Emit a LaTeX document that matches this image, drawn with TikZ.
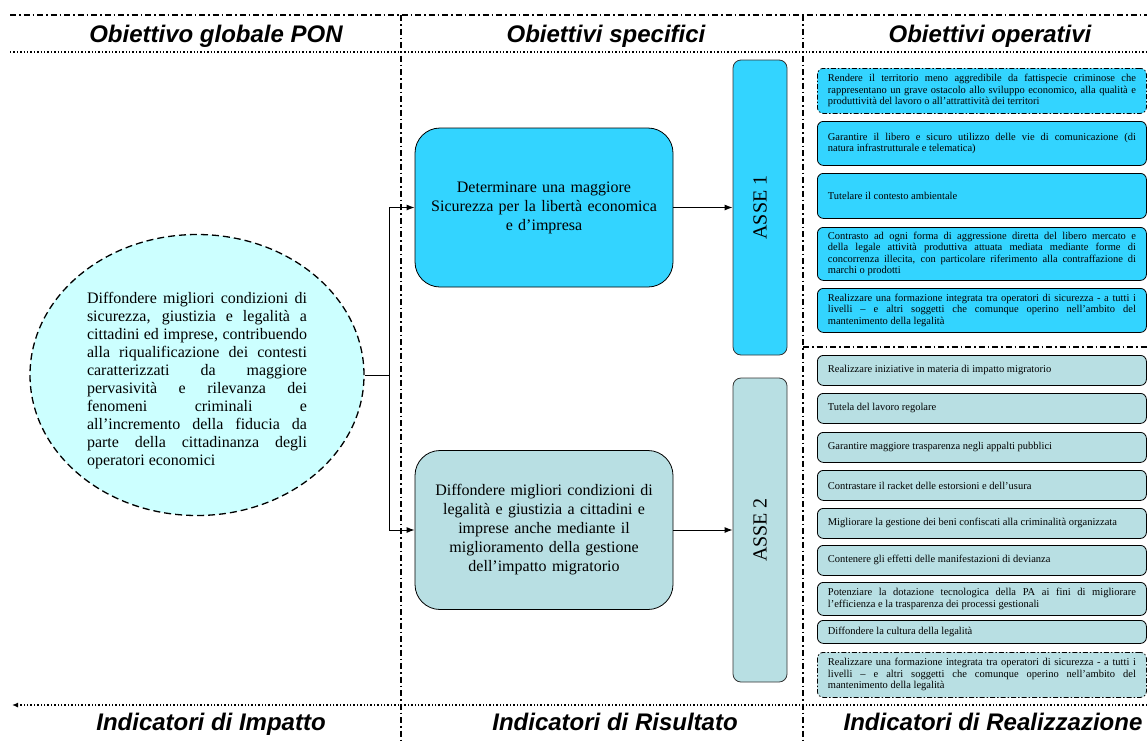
\documentclass[tikz,border=0pt]{standalone}
\usepackage{fontspec}
\setmainfont{Liberation Serif}
\newfontfamily\headfont{Liberation Sans}
\usepackage{graphicx}
\usetikzlibrary{arrows,arrows.meta,positioning,shapes.geometric}

\definecolor{asseone}{RGB}{51,212,255}
\definecolor{assetwo}{RGB}{184,223,227}
\definecolor{ponfill}{RGB}{204,255,255}

\hyphenpenalty=10000
\exhyphenpenalty=10000

\begin{document}
\begin{tikzpicture}[x=1pt, y=-1pt,
	heading/.style={font=\headfont\bfseries\itshape\fontsize{24}{28}\selectfont, anchor=base, inner sep=0pt},
	dashdot/.style={line width=1.4pt, dash pattern=on 6pt off 3pt on 1.5pt off 3pt},
	dotline/.style={line width=1.4pt, dotted},
	link/.style={line width=1pt, -{Latex[length=8pt,width=6pt]}},
	specbox/.style={draw, line width=0.8pt, rounded corners=25pt, minimum width=258pt, minimum height=159pt, text width=230pt, align=center, font=\fontsize{16}{19}\selectfont},
	assebox/.style={draw=black!80, line width=0.8pt, rounded corners=8pt, minimum width=54pt, inner sep=0pt, font=\fontsize{20}{24}\selectfont},
	opbox/.style={draw, line width=0.8pt, rounded corners=6pt, anchor=north west, minimum width=329pt, text width=308pt, inner xsep=10.5pt, inner ysep=2pt, align=justify, font=\fontsize{10.5}{11.5}\selectfont},
	opdash/.style={dash pattern=on 5pt off 2pt on 1.5pt off 2pt}
]
\useasboundingbox (0,0) rectangle (1147,742);
% Frame of the three columns
\draw[dashdot] (10,15) -- (1147,15);
\draw[dotline] (10,52) -- (1147,52);
\draw[dashdot] (401,15) -- (401,742);
\draw[dashdot] (803,15) -- (803,742);
\draw[dashdot] (803,347) -- (1147,347);
\draw[dotline, -{Latex[length=6pt,width=5pt]}] (1147,705) -- (12,705);
% Headings
\node[heading] (hglobal) at (216,42) {Obiettivo globale PON};
\node[heading] (hspec) at (606,42) {Obiettivi specifici};
\node[heading] (hop) at (990,42) {Obiettivi operativi};
\node[heading] (himp) at (211,730) {Indicatori di Impatto};
\node[heading] (hris) at (615,730) {Indicatori di Risultato};
\node[heading] (hreal) at (993,730) {Indicatori di Realizzazione};
% Global objective
\node[ellipse, draw, line width=1.3pt, dash pattern=on 7pt off 4pt, fill=ponfill,
	minimum width=334pt, minimum height=281pt, inner sep=0pt,
	text width=220pt, align=justify, font=\fontsize{16}{18}\selectfont] (pon) at (197,375)
	{\rule{0pt}{23pt}Diffondere migliori condizioni di\linebreak
	sicurezza, giustizia e legalità a\linebreak
	cittadini ed imprese, contribuendo\linebreak
	alla riqualificazione dei contesti\linebreak
	caratterizzati da maggiore\linebreak
	pervasività e rilevanza dei\linebreak
	fenomeni criminali e\linebreak
	all’incremento della fiducia da\linebreak
	parte della cittadinanza degli\linebreak
	operatori economici};
% Specific objectives
\node[specbox, fill=asseone] (spec1) at (544,207.5)
	{Determinare una maggiore\\ Sicurezza per la libertà economica\\ e d’impresa};
\node[specbox, fill=assetwo] (spec2) at (544,530)
	{Diffondere migliori condizioni di\\ legalità e giustizia a cittadini e\\ imprese anche mediante il\\ miglioramento della gestione\\ dell’impatto migratorio};
% Axes
\node[assebox, fill=asseone, minimum height=295pt] (asse1) at (760,207.5) {\rotatebox{90}{ASSE 1}};
\node[assebox, fill=assetwo, minimum height=304pt] (asse2) at (760,530) {\rotatebox{90}{ASSE 2}};
% Connectors
\draw[line width=1pt] (pon.east) -- ++(25,0) coordinate (split);
\draw[link] (split) |- (spec1.west);
\draw[link] (split) |- (spec2.west);
\draw[link] (spec1.east) -- (asse1.west);
\draw[link] (spec2.east) -- (asse2.west);
% Operative objectives of ASSE 1
\node[opbox, opdash, fill=asseone, minimum height=45pt] (op1a) at (817,68)
	{Rendere il territorio meno aggredibile da fattispecie criminose che\linebreak
	rappresentano un grave ostacolo allo sviluppo economico, alla qualità e\linebreak
	produttività del lavoro o all’attrattività dei territori};
\node[opbox, fill=asseone, minimum height=44pt] (op1b) at (817,121)
	{Garantire il libero e sicuro utilizzo delle vie di comunicazione (di\linebreak
	natura infrastrutturale e telematica)};
\node[opbox, fill=asseone, minimum height=45pt] (op1c) at (817,173)
	{Tutelare il contesto ambientale};
\node[opbox, fill=asseone, minimum height=53pt] (op1d) at (817,227)
	{Contrasto ad ogni forma di aggressione diretta del libero mercato e\linebreak
	della legale attività produttiva attuata mediata mediante forme di\linebreak
	concorrenza illecita, con particolare riferimento alla contraffazione di\linebreak
	marchi o prodotti};
\node[opbox, fill=asseone, minimum height=44pt] (op1e) at (817,288)
	{Realizzare una formazione integrata tra operatori di sicurezza - a tutti i\linebreak
	livelli – e altri soggetti che comunque operino nell’ambito del\linebreak
	mantenimento della legalità};
% Operative objectives of ASSE 2
\node[opbox, fill=assetwo, minimum height=30pt] (op2a) at (817,355)
	{Realizzare iniziative in materia di impatto migratorio};
\node[opbox, fill=assetwo, minimum height=30pt] (op2b) at (817,393)
	{Tutela del lavoro regolare};
\node[opbox, fill=assetwo, minimum height=30pt] (op2c) at (817,432)
	{Garantire maggiore trasparenza negli appalti pubblici};
\node[opbox, fill=assetwo, minimum height=30pt] (op2d) at (817,470)
	{Contrastare il racket delle estorsioni e dell’usura};
\node[opbox, fill=assetwo, minimum height=30pt] (op2e) at (817,508)
	{Migliorare la gestione dei beni confiscati alla criminalità organizzata};
\node[opbox, fill=assetwo, minimum height=30pt] (op2f) at (817,545)
	{Contenere gli effetti delle manifestazioni di devianza};
\node[opbox, fill=assetwo, minimum height=33pt] (op2g) at (817,582)
	{Potenziare la dotazione tecnologica della PA ai fini di migliorare\linebreak
	l’efficienza e la trasparenza dei processi gestionali};
\node[opbox, fill=assetwo, minimum height=23pt] (op2h) at (817,620)
	{Diffondere la cultura della legalità};
\node[opbox, opdash, fill=assetwo, minimum height=45pt] (op2i) at (817,652)
	{Realizzare una formazione integrata tra operatori di sicurezza - a tutti i\linebreak
	livelli – e altri soggetti che comunque operino nell’ambito del\linebreak
	mantenimento della legalità};
\end{tikzpicture}
\end{document}
